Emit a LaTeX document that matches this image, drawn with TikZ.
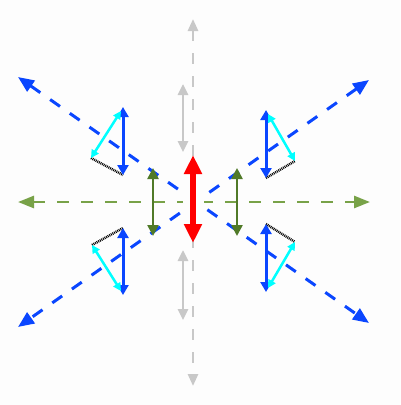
\documentclass[tikz,border=0pt]{standalone}
\usetikzlibrary{arrows.meta}
\definecolor{dblue}{RGB}{10,70,255}
\definecolor{lgreen}{RGB}{120,162,72}
\definecolor{dgreen}{RGB}{80,122,40}
\definecolor{lgrey}{RGB}{200,200,200}
\definecolor{ccyan}{RGB}{0,255,255}
\definecolor{bgc}{RGB}{253,253,253}
\tikzset{
  diag/.style={draw=dblue, line width=3pt, dash pattern=on 12pt off 12pt, {Triangle[length=16pt,width=13pt]}-{Triangle[length=16pt,width=13pt]}},
  horiz/.style={draw=lgreen, line width=2.6pt, dash pattern=on 12pt off 12pt, {Triangle[length=16pt,width=12pt]}-{Triangle[length=16pt,width=12pt]}},
  vert/.style={draw=lgrey, line width=2.6pt, dash pattern=on 11pt off 12pt, {Triangle[length=12pt,width=10pt]}-{Triangle[length=12pt,width=10pt]}},
  greyarr/.style={draw=lgrey, line width=2.6pt, {Triangle[length=11pt,width=10pt]}-{Triangle[length=11pt,width=10pt]}},
  redarr/.style={draw=red, line width=6pt, {Triangle[length=19pt,width=17pt]}-{Triangle[length=19pt,width=17pt]}},
  greenarr/.style={draw=dgreen, line width=2.5pt, {Triangle[length=11pt,width=11pt]}-{Triangle[length=11pt,width=11pt]}},
  bluearr/.style={draw=dblue, line width=3pt, {Triangle[length=10pt,width=11pt]}-{Triangle[length=10pt,width=11pt]}},
  cyanarr/.style={draw=ccyan, line width=2.5pt, {Triangle[length=8pt,width=8pt]}-{Triangle[length=8pt,width=8pt]}},
  dotline/.style={draw=black, line width=2.5pt, dash pattern=on 0.9pt off 0.9pt},
}
\begin{document}
\begin{tikzpicture}[x=1pt,y=-1pt]
\fill[bgc] (0,0) rectangle (400,405);
\useasboundingbox (0,0) rectangle (400,405);
% main axes
\coordinate (TL) at (18,77);
\coordinate (BR) at (369,323);
\coordinate (TR) at (369,80);
\coordinate (BL) at (18,327);
\coordinate (GL) at (18,202);
\coordinate (GR) at (370,202);
\coordinate (VT) at (193,19);
\coordinate (VB) at (193,386);
\draw[vert] (VT) -- (VB);
\draw[horiz] (GL) -- (GR);
\draw[diag] (TL) -- (BR);
\draw[diag] (TR) -- (BL);
% clearing round the red arrow
\fill[bgc] (183,157) rectangle (204,241);
% grey short arrows
\coordinate (g1a) at (183,84);
\coordinate (g1b) at (183,152);
\coordinate (g2a) at (183,250);
\coordinate (g2b) at (183,320);
\draw[greyarr] (g1a) -- (g1b);
\draw[greyarr] (g2a) -- (g2b);
% red
\coordinate (ra) at (193,155);
\coordinate (rb) at (193,243);
\draw[redarr] (ra) -- (rb);
% dark green
\coordinate (dl1) at (153,168);
\coordinate (dl2) at (153,236);
\coordinate (dr1) at (237,168);
\coordinate (dr2) at (237,236);
\draw[greenarr] (dl1) -- (dl2);
\draw[greenarr] (dr1) -- (dr2);
% top-left group
\coordinate (a1) at (123,107);
\coordinate (a2) at (123,175);
\coordinate (a3) at (121,111);
\coordinate (a4) at (91,158);
\draw[dotline] (a4) -- (a2);
\draw[bluearr] (a1) -- (a2);
\draw[cyanarr] (a3) -- (a4);
% top-right group
\coordinate (b1) at (266,110);
\coordinate (b2) at (266,178);
\coordinate (b3) at (268,114);
\coordinate (b4) at (295,161);
\draw[dotline] (b2) -- (b4);
\draw[bluearr] (b1) -- (b2);
\draw[cyanarr] (b3) -- (b4);
% bottom-left group
\coordinate (c1) at (123,228);
\coordinate (c2) at (123,295);
\coordinate (c3) at (92,245);
\coordinate (c4) at (121,291);
\draw[dotline] (c3) -- (c1);
\draw[bluearr] (c1) -- (c2);
\draw[cyanarr] (c3) -- (c4);
% bottom-right group
\coordinate (d1) at (266,224);
\coordinate (d2) at (266,292);
\coordinate (d3) at (268,288);
\coordinate (d4) at (295,242);
\draw[dotline] (d1) -- (d4);
\draw[bluearr] (d1) -- (d2);
\draw[cyanarr] (d3) -- (d4);
\end{tikzpicture}
\end{document}
